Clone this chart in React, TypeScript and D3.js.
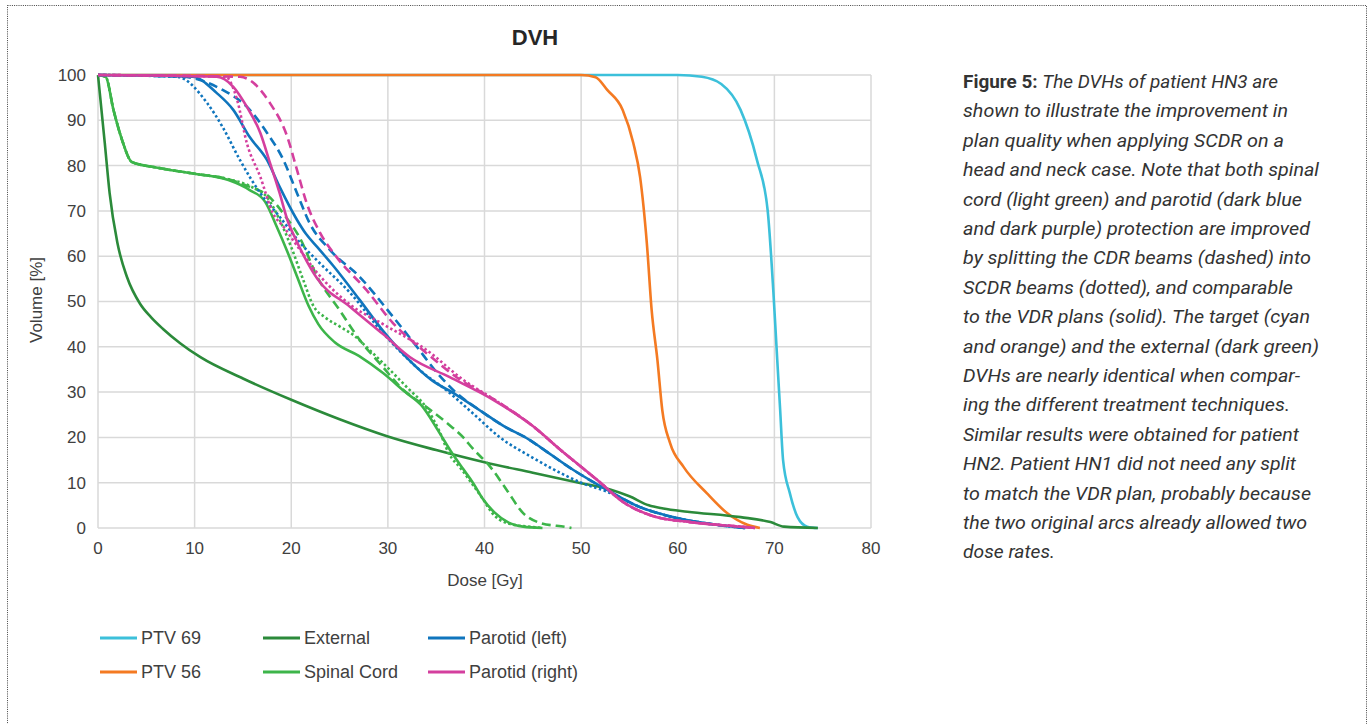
import React from 'react';
import * as d3 from 'd3';

// dose [Gy], volume [%]
const ptv69 = [[0, 100], [60, 100], [62.5, 99.6], [64.5, 98], [66.5, 92.3], [68.2, 81.2], [69.3, 70.2], [69.9, 52], [70.3, 37], [70.6, 26], [70.9, 15], [71.6, 7.7], [72.4, 2.4], [73.4, 0.3], [74.5, 0]];
const ptv56 = [[0, 100], [50, 100], [51.5, 99.5], [52.7, 96.7], [54.3, 92.3], [55.4, 85], [56.1, 77.5], [56.8, 62.9], [57.3, 48.1], [57.9, 37], [58.4, 26], [59.2, 18.8], [60.6, 13.5], [63, 7.7], [65.1, 3.3], [67.2, 0.7], [68.5, 0]];
const external = [[0, 100], [0.7, 85], [1.2, 74], [2, 63], [3, 55.4], [4.35, 49.5], [5.5, 46.5], [6.7, 44], [8.5, 40.8], [10.6, 37.7], [15, 33], [20, 28.3], [25, 24], [30, 20.2], [35, 17.2], [40, 14.5], [45, 12.2], [50, 9.9], [53, 8.5], [55, 7], [57, 5], [58.5, 4.3], [61, 3.6], [66.5, 2.4], [69.6, 1.3], [71, 0.3], [74.5, 0]];

const cordVdr = [[0, 100], [0.8, 99.6], [1.6, 92.3], [2.5, 85.6], [3.5, 80.8], [6, 79.6], [10, 78.2], [13.5, 76.8], [15.7, 74.6], [17.3, 72], [18.5, 66.5], [19.6, 61], [20.6, 55.5], [21.8, 49], [22.8, 45], [24.5, 41], [27, 38], [29.5, 34.2], [31.8, 30], [33.5, 27], [35.2, 21.5], [36.5, 17], [37.8, 13], [38.8, 10], [39.8, 6.5], [41, 3.5], [42.5, 1.2], [44, 0.3], [46, 0]];
const cordCdr = [[0, 100], [0.8, 99.6], [1.6, 92.3], [2.5, 85.6], [3.5, 80.8], [6, 79.6], [10, 78.2], [13.5, 77], [15.7, 75.3], [17.5, 73.5], [19.5, 68.5], [20.9, 64], [22.7, 55.4], [25, 48.1], [27.1, 41.5], [29.5, 35.5], [31.3, 31.1], [34, 26.7], [36.1, 23.2], [37.8, 20], [38.8, 17.5], [40.6, 13.5], [42.3, 8.4], [44, 3.3], [45.8, 1.1], [48.5, 0.2], [49, 0]];
const cordScdr = [[0, 100], [0.8, 99.6], [1.6, 92.3], [2.5, 85.6], [3.5, 80.8], [6, 79.6], [10, 78.2], [13.5, 77], [15.7, 75.5], [17.5, 73], [18.8, 68], [20, 62], [21.2, 55], [22.3, 49], [23.5, 46.5], [25, 44.5], [26.5, 42.5], [28, 39.5], [29.5, 36.4], [32, 31], [34, 26.5], [35.3, 21.5], [36.3, 16.5], [37.6, 13], [38.8, 9.5], [39.8, 6.5], [40.8, 3.3], [42.3, 1.1], [45, 0.2], [46, 0]];

const parLeftVdr = [[0, 100], [9.8, 99.6], [12.3, 96], [14, 92.3], [15.7, 86.3], [17.5, 81.2], [18.8, 75.3], [20.6, 68], [21.5, 65], [22.7, 62], [24.3, 58], [27.1, 50.3], [29.5, 43.5], [32, 37.5], [34.5, 32.7], [37, 29.5], [39.5, 26], [42, 22.5], [44.7, 19.4], [45.8, 17.8], [49.2, 12.8], [52.7, 8.4], [56.1, 4.6], [59.5, 2.4], [64, 0.7], [66.5, 0.1], [67, 0]];
const parLeftCdr = [[0, 100], [8.8, 99.6], [12.9, 96.7], [15.4, 93], [17.5, 87.2], [19.2, 81.2], [20.6, 73.9], [21.9, 67.3], [24, 61.4], [27.1, 55.4], [30.2, 47.5], [33, 40], [35, 34.5], [37, 30], [39.5, 26], [42, 22.5], [44.7, 19.4], [45.8, 17.8], [49.2, 12.8], [52.7, 8.4], [56.1, 4.6], [59.5, 2.4], [64, 0.7], [66.5, 0.1], [67, 0]];
const parLeftScdr = [[0, 100], [8.2, 99.6], [11.3, 93.8], [12.9, 88.5], [14.7, 81.2], [16.8, 73.9], [18.8, 68.7], [20.9, 63], [22.7, 59], [26.1, 51.9], [29.5, 43], [31.5, 38.5], [33.5, 34.5], [36, 30.5], [38.7, 25.5], [41.6, 20], [45, 15.5], [48, 12], [50, 10], [52.7, 8], [56.1, 4.6], [59.5, 2.4], [64, 0.7], [66.5, 0.1], [67, 0]];

const parRightVdr = [[0, 100], [12.3, 99.6], [14, 97.4], [15.4, 93], [16.8, 87.2], [17.8, 80.6], [18.8, 73.9], [19.6, 68], [20.4, 64], [21.2, 60.5], [22.7, 55], [26.1, 48.8], [29.5, 42.8], [32.3, 37.7], [36.4, 33.3], [40.9, 28.3], [45, 22.5], [48, 17], [50, 13.5], [52, 10], [54.3, 5.8], [57.5, 2.6], [61.3, 1.3], [66.5, 0.3], [68, 0]];
const parRightCdr = [[0, 100], [14.7, 99.6], [17.8, 93.8], [19.6, 86.3], [20.6, 79], [21.6, 71.7], [23, 65.1], [24.7, 59.8], [27.8, 52.5], [30.5, 45.3], [34, 38.6], [37.5, 32.7], [40.9, 28.5], [45, 22.5], [48, 17], [50, 13.5], [52, 10], [54.3, 5.8], [57.5, 2.6], [61.3, 1.3], [66.5, 0.3], [68, 0]];
const parRightScdr = [[0, 100], [13.2, 99.6], [14.4, 94.5], [15.4, 85], [16.8, 77.5], [18.1, 69.5], [19.2, 66.5], [20.2, 63.5], [22.7, 56.3], [26.1, 49.3], [29.5, 45], [34, 39.3], [37.8, 32.7], [40.9, 28.5], [45, 22.5], [48, 17], [50, 13.5], [52, 10], [54.3, 5.8], [57.5, 2.6], [61.3, 1.3], [66.5, 0.3], [68, 0]];

const doseTicks = [0, 10, 20, 30, 40, 50, 60, 70, 80];
const volumeTicks = [0, 10, 20, 30, 40, 50, 60, 70, 80, 90, 100];

const legendNames = ['PTV 69', 'PTV 56', 'External', 'Spinal Cord', 'Parotid (left)', 'Parotid (right)'];
const legendColors = ['#3cc0da', '#f47a22', '#2b8a3a', '#3db54a', '#0f75bd', '#d43f9e'];

const captionLines = [
  'The DVHs of patient HN3 are',
  'shown to illustrate the improvement in',
  'plan quality when applying SCDR on a',
  'head and neck case. Note that both spinal',
  'cord (light green) and parotid (dark blue',
  'and dark purple) protection are improved',
  'by splitting the CDR beams (dashed) into',
  'SCDR beams (dotted), and comparable',
  'to the VDR plans (solid). The target (cyan',
  'and orange) and the external (dark green)',
  'DVHs are nearly identical when compar-',
  'ing the different treatment techniques.',
  'Similar results were obtained for patient',
  'HN2. Patient HN1 did not need any split',
  'to match the VDR plan, probably because',
  'the two original arcs already allowed two',
  'dose rates.',
];
const captionWidths = [315, 325, 321, 356, 339, 347, 348, 330, 347, 356, 337, 327, 336, 333, 348, 344, 92];

const DASH = '9 5';
const DOT = '2.5 2.5';

// draw order: later on top
const curves = [
  { data: ptv69, color: legendColors[0], dash: null },
  { data: ptv56, color: legendColors[1], dash: null },
  { data: external, color: legendColors[2], dash: null },
  { data: cordCdr, color: legendColors[3], dash: DASH },
  { data: cordScdr, color: legendColors[3], dash: DOT },
  { data: cordVdr, color: legendColors[3], dash: null },
  { data: parLeftCdr, color: legendColors[4], dash: DASH },
  { data: parLeftScdr, color: legendColors[4], dash: DOT },
  { data: parLeftVdr, color: legendColors[4], dash: null },
  { data: parRightCdr, color: legendColors[5], dash: DASH },
  { data: parRightScdr, color: legendColors[5], dash: DOT },
  { data: parRightVdr, color: legendColors[5], dash: null },
];

export default function App() {
  const width = 1370;
  const height = 724;
  const margin = { top: 75, left: 98 };
  const innerWidth = 773;
  const innerHeight = 453;

  const x = d3.scaleLinear().domain([0, 80]).range([0, innerWidth]);
  const y = d3.scaleLinear().domain([0, 100]).range([innerHeight, 0]);
  const line = d3.line<number[]>()
    .x((d) => x(d[0]))
    .y((d) => y(d[1]))
    .curve(d3.curveMonotoneX);

  const font = '"Liberation Sans", Arial, sans-serif';
  const legendCols = [100, 263, 428];
  const legendRows = [638, 672];

  return (
    <svg width={width} height={height} style={{ position: 'absolute', left: 0, top: 0, background: '#fff' }}>
      <rect x={7.5} y={5.5} width={1359} height={740} fill="none" stroke="#444" strokeWidth={1} strokeDasharray="1 1.2" />

      <text x={535} y={45} textAnchor="middle" fontFamily={font} fontWeight="bold" fontSize={22} fill="#262626">DVH</text>

      <g transform={`translate(${margin.left}, ${margin.top})`}>
        {volumeTicks.map((v) => (
          <line key={`h${v}`} x1={0} x2={innerWidth} y1={y(v)} y2={y(v)} stroke="#d9d9d9" strokeWidth={1.5} />
        ))}
        {doseTicks.map((v) => (
          <line key={`v${v}`} x1={x(v)} x2={x(v)} y1={0} y2={innerHeight} stroke="#d9d9d9" strokeWidth={1.5} />
        ))}
        {volumeTicks.map((v) => (
          <text key={`yl${v}`} x={-12} y={y(v)} dy="0.35em" textAnchor="end" fontFamily={font} fontSize={17} fill="#404040">{v}</text>
        ))}
        {doseTicks.map((v) => (
          <text key={`xl${v}`} x={x(v)} y={innerHeight + 26} textAnchor="middle" fontFamily={font} fontSize={17} fill="#404040">{v}</text>
        ))}
        {curves.map((c, i) => (
          <path
            key={i}
            d={line(c.data) || ''}
            fill="none"
            stroke={c.color}
            strokeWidth={2.6}
            strokeDasharray={c.dash || undefined}
            strokeLinejoin="round"
          />
        ))}
      </g>

      <text transform="translate(42, 300) rotate(-90)" textAnchor="middle" fontFamily={font} fontSize={17} fill="#404040">Volume [%]</text>
      <text x={485} y={586} textAnchor="middle" fontFamily={font} fontSize={17} fill="#404040">Dose [Gy]</text>

      {legendNames.map((name, i) => {
        const cx = legendCols[Math.floor(i / 2)];
        const cy = legendRows[i % 2];
        return (
          <g key={name}>
            <line x1={cx} x2={cx + 37} y1={cy} y2={cy} stroke={legendColors[i]} strokeWidth={3} />
            <text x={cx + 41} y={cy} dy="0.35em" fontFamily={font} fontSize={18} fill="#404040">{name}</text>
          </g>
        );
      })}

      {captionLines.map((t, i) => (
        <text
          key={i}
          x={963}
          y={88 + i * 29.4}
          fontFamily="Roboto, sans-serif"
          fontSize={18.5}
          fill="#333"
          textLength={captionWidths[i]}
          lengthAdjust="spacingAndGlyphs"
        >
          {i === 0 && <tspan fontWeight="bold">Figure 5: </tspan>}
          <tspan fontStyle="italic">{t}</tspan>
        </text>
      ))}
    </svg>
  );
}
